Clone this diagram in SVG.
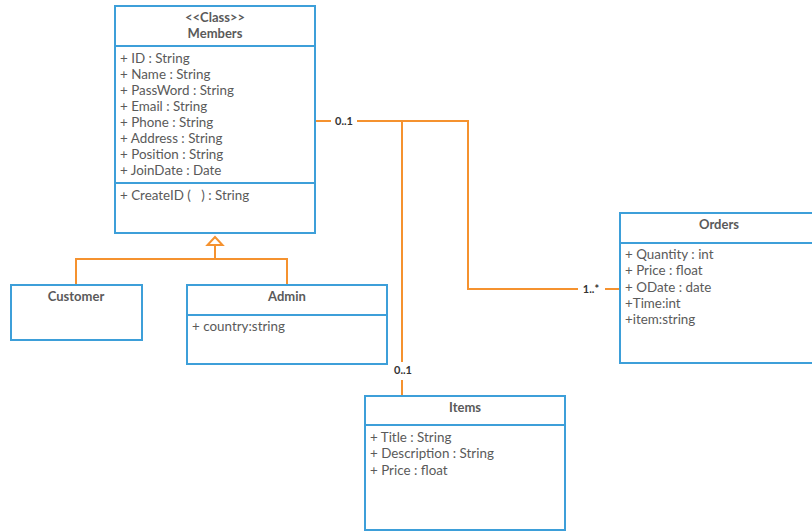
<svg xmlns="http://www.w3.org/2000/svg" width="812" height="531" viewBox="0 0 812 531">
<style>
.box{fill:#fff;stroke:#3d9fd9;stroke-width:2}
.div{stroke:#3d9fd9;stroke-width:2}
.t{font-family:Lato,"Open Sans",sans-serif;font-size:13.4px;fill:#5a5a5a}
.h{font-family:Lato,"Open Sans",sans-serif;font-size:13px;font-weight:bold;fill:#5a5a5a;text-anchor:middle}
.c{fill:none;stroke:#f5922f;stroke-width:2}
.lab{font-family:Lato,"Open Sans",sans-serif;font-size:11px;font-weight:bold;fill:#333;text-anchor:middle}
</style>
<rect width="812" height="531" fill="#fff"/>
<g id="connectors">
<polygon points="215,237 207.5,245 222.5,245" class="c"/>
<polyline class="c" points="215,245 215,259 76,259 76,285"/>
<polyline class="c" points="215,259 287,259 287,285"/>
<line class="c" x1="315" y1="121" x2="331" y2="121"/>
<polyline class="c" points="357,121 468,121 468,289 578,289"/>
<line class="c" x1="605" y1="289" x2="620" y2="289"/>
<line class="c" x1="402" y1="121" x2="402" y2="362"/>
<line class="c" x1="402" y1="380" x2="402" y2="395"/>
<text class="lab" x="344" y="125">0..1</text>
<text class="lab" x="591" y="293">1..*</text>
<text class="lab" x="403" y="374">0..1</text>
</g>
<g id="members">
<rect class="box" x="115" y="6" width="200" height="227"/>
<line class="div" x1="115" y1="46" x2="315" y2="46"/>
<line class="div" x1="115" y1="183" x2="315" y2="183"/>
<text class="h" x="215" y="22" font-size="12">&lt;&lt;Class&gt;&gt;</text>
<text class="h" x="215" y="38">Members</text>
<text class="t" x="120" y="63">+ ID : String</text>
<text class="t" x="120" y="79">+ Name : String</text>
<text class="t" x="120" y="95">+ PassWord : String</text>
<text class="t" x="120" y="111">+ Email : String</text>
<text class="t" x="120" y="127">+ Phone : String</text>
<text class="t" x="120" y="143">+ Address : String</text>
<text class="t" x="120" y="159">+ Position : String</text>
<text class="t" x="120" y="175">+ JoinDate : Date</text>
<text class="t" x="120" y="200">+ CreateID (&#160;&#160;&#160;) : String</text>
</g>
<g id="customer">
<rect class="box" x="11" y="285" width="131" height="55"/>
<text class="h" x="76" y="301">Customer</text>
</g>
<g id="admin">
<rect class="box" x="187" y="285" width="200" height="79"/>
<line class="div" x1="187" y1="315" x2="387" y2="315"/>
<text class="h" x="287" y="301">Admin</text>
<text class="t" x="192" y="331">+ country:string</text>
</g>
<g id="orders">
<rect class="box" x="620" y="213" width="200" height="150"/>
<line class="div" x1="620" y1="243" x2="812" y2="243"/>
<text class="h" x="719" y="229">Orders</text>
<text class="t" x="625" y="259">+ Quantity : int</text>
<text class="t" x="625" y="275">+ Price : float</text>
<text class="t" x="625" y="292">+ ODate : date</text>
<text class="t" x="625" y="308">+Time:int</text>
<text class="t" x="625" y="324">+item:string</text>
</g>
<g id="items">
<rect class="box" x="365" y="396" width="200" height="134"/>
<line class="div" x1="365" y1="425" x2="565" y2="425"/>
<text class="h" x="465" y="412">Items</text>
<text class="t" x="370" y="442">+ Title : String</text>
<text class="t" x="370" y="458">+ Description : String</text>
<text class="t" x="370" y="475">+ Price : float</text>
</g>
</svg>
